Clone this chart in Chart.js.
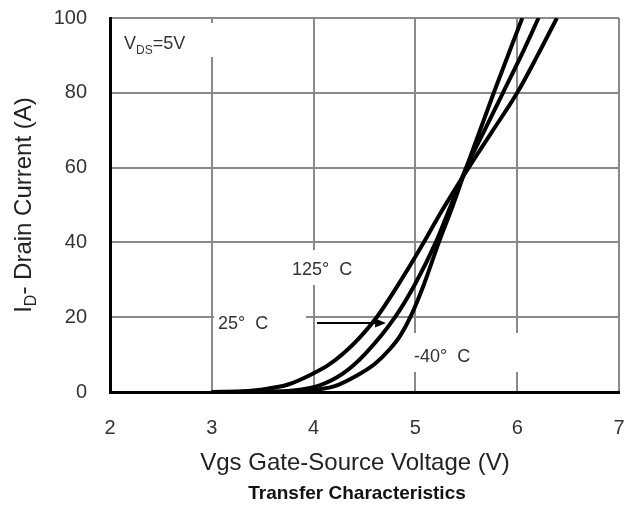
<!DOCTYPE html>
<html>
<head>
<meta charset="utf-8">
<script src="https://cdn.jsdelivr.net/npm/chart.js@4.4.1/dist/chart.umd.min.js"></script>
<style>
  html, body { margin: 0; padding: 0; background: #fff; }
  #wrap { width: 626px; height: 508px; }
</style>
</head>
<body>
<div id="wrap"><canvas id="transfer"></canvas></div>
<script>
// Vgs (V) / Id (A)
var vgsMinus40 = [3, 3.6, 3.9, 4.2, 4.43, 4.6, 4.75, 4.85, 4.95, 5.08, 5.23, 5.37, 5.5, 5.77, 6.05];
var idMinus40  = [0, 0.02, 0.3, 1.5, 4.5, 7.5, 11.5, 15, 20, 28.5, 40, 50, 60, 80, 100];
var vgs25 = [3, 3.5, 3.8, 4.06, 4.29, 4.5, 4.8, 5.0, 5.2, 5.35, 5.5, 5.68, 5.86, 6.04, 6.21];
var id25  = [0, 0.05, 0.4, 1.8, 5, 10, 20, 29, 40, 50, 60, 70, 80, 90, 100];
var vgs125 = [3, 3.3, 3.5, 3.75, 4.0, 4.15, 4.3, 4.45, 4.62, 4.85, 5.05, 5.25, 5.5, 5.75, 6.0, 6.2, 6.39];
var id125  = [0, 0.2, 0.7, 2, 5, 7.3, 10.5, 14.5, 20, 29.5, 38.5, 48, 59, 69.5, 80, 90, 100];
var xTicks = [2, 3, 4, 5, 6, 7];
var yTicks = [0, 20, 40, 60, 80, 100];

function pts(xs, ys) {
  return xs.map(function (v, i) { return { x: v, y: ys[i] }; });
}

var FONT = "'Liberation Sans', Arial, sans-serif";

// text boxes on the plot (white patch under them hides the grid, like the original)
var notes = {
  id: 'notes',
  beforeDatasetsDraw: function (chart) {
    var ctx = chart.ctx;
    ctx.save();
    ctx.fillStyle = '#fff';
    ctx.fillRect(115, 23, 100, 34);
    ctx.fillRect(285, 250, 80, 35);
    ctx.fillRect(214, 298, 92, 44);
    ctx.fillRect(316, 318, 70, 10);
    ctx.fillRect(410, 333, 112, 39);

    ctx.fillStyle = '#333';
    ctx.textBaseline = 'alphabetic';
    ctx.textAlign = 'left';
    // V_DS=5V
    var x = 124;
    ctx.font = '18px ' + FONT;
    ctx.fillText('V', x, 49);
    x += ctx.measureText('V').width;
    ctx.font = '12px ' + FONT;
    ctx.fillText('DS', x, 54);
    x += ctx.measureText('DS').width;
    ctx.font = '18px ' + FONT;
    ctx.fillText('=5V', x, 49);

    ctx.fillText('125\u00B0  C', 292, 275);
    ctx.fillText('25\u00B0  C', 218, 329);
    ctx.fillText('-40\u00B0  C', 414, 362);

    // arrow 25C -> curve
    ctx.strokeStyle = '#000';
    ctx.lineWidth = 2;
    ctx.beginPath();
    ctx.moveTo(317, 323);
    ctx.lineTo(378, 323);
    ctx.stroke();
    ctx.fillStyle = '#000';
    ctx.beginPath();
    ctx.moveTo(386, 323);
    ctx.lineTo(375, 318.5);
    ctx.lineTo(375, 327.5);
    ctx.closePath();
    ctx.fill();
    ctx.restore();
  },
  afterDraw: function (chart) {
    var ctx = chart.ctx;
    ctx.save();
    ctx.fillStyle = '#222';
    // x title and caption
    ctx.textAlign = 'center';
    ctx.textBaseline = 'middle';
    ctx.font = '24px ' + FONT;
    ctx.fillText('Vgs Gate-Source Voltage (V)', 355, 463);
    ctx.font = 'bold 19px ' + FONT;
    ctx.fillStyle = '#111';
    ctx.fillText('Transfer Characteristics', 357, 494);

    // y title with subscript
    ctx.fillStyle = '#222';
    ctx.translate(31, 205);
    ctx.rotate(-Math.PI / 2);
    ctx.textAlign = 'left';
    ctx.textBaseline = 'alphabetic';
    var big = '24px ' + FONT, small = '16px ' + FONT;
    ctx.font = big;
    var w1 = ctx.measureText('I').width;
    var w3 = ctx.measureText('- Drain Current (A)').width;
    ctx.font = small;
    var w2 = ctx.measureText('D').width;
    var x0 = -(w1 + w2 + w3) / 2;
    ctx.font = big;
    ctx.fillText('I', x0, 0);
    ctx.font = small;
    ctx.fillText('D', x0 + w1, 5);
    ctx.font = big;
    ctx.fillText('- Drain Current (A)', x0 + w1 + w2, 0);
    ctx.restore();
  }
};

function curve(label, data) {
  return {
    label: label,
    data: data,
    borderColor: '#000',
    borderWidth: 4,
    pointRadius: 0,
    fill: false,
    cubicInterpolationMode: 'monotone'
  };
}

var transferChart = new Chart(document.getElementById('transfer'), {
  type: 'line',
  data: {
    datasets: [
      curve('-40\u00B0 C', pts(vgsMinus40, idMinus40)),
      curve('25\u00B0 C', pts(vgs25, id25)),
      curve('125\u00B0 C', pts(vgs125, id125))
    ]
  },
  options: {
    responsive: true,
    maintainAspectRatio: false,
    animation: false,
    layout: { padding: 0 },
    plugins: {
      legend: { display: false },
      tooltip: { enabled: false },
      title: { display: false }
    },
    scales: {
      x: {
        type: 'linear',
        min: 2,
        max: 7,
        afterBuildTicks: function (s) { s.ticks = xTicks.map(function (v) { return { value: v }; }); },
        afterFit: function (s) { s.height = 116; s.paddingLeft = 0; s.paddingRight = 7; },
        ticks: { color: '#333', font: { family: FONT, size: 20 }, padding: 24 },
        grid: { color: '#8a8a8a', lineWidth: 2, drawTicks: false },
        border: { color: '#000', width: 3 }
      },
      y: {
        min: 0,
        max: 100,
        afterBuildTicks: function (s) { s.ticks = yTicks.map(function (v) { return { value: v }; }); },
        afterFit: function (s) { s.width = 110; s.paddingTop = 18; s.paddingBottom = 0; },
        ticks: { color: '#333', font: { family: FONT, size: 20 }, padding: 23 },
        grid: { color: '#8a8a8a', lineWidth: 2, drawTicks: false },
        border: { color: '#000', width: 3 }
      }
    }
  },
  plugins: [notes]
});
</script>
</body>
</html>
